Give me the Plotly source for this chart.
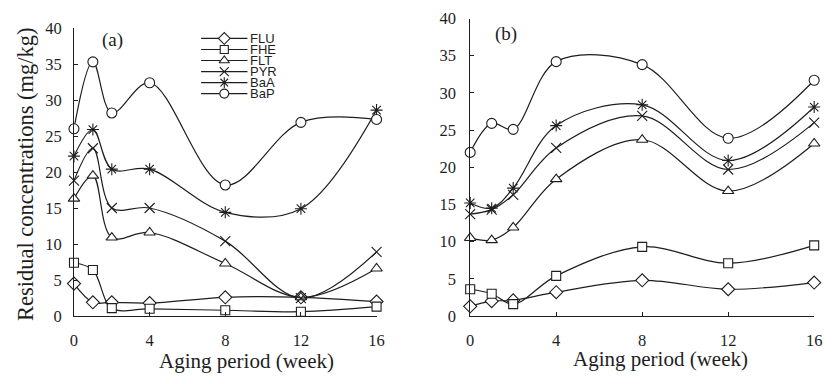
import plotly.graph_objects as go

# Sampling times (weeks)
weeks = [0, 1, 2, 4, 8, 12, 16]
x_ticks = [0, 4, 8, 12, 16]
y_ticks = [0, 5, 10, 15, 20, 25, 30, 35, 40]

series_names = ["FLU", "FHE", "FLT", "PYR", "BaA", "BaP"]

# Panel (a) residual concentrations (mg/kg)
a_flu = [4.5, 1.9, 1.9, 1.8, 2.6, 2.6, 2.0]
a_fhe = [7.4, 6.4, 1.1, 1.0, 0.8, 0.6, 1.3]
a_flt = [16.3, 19.5, 10.9, 11.6, 7.3, 2.6, 6.6]
a_pyr = [18.8, 23.3, 15.0, 15.0, 10.4, 2.5, 8.9]
a_baa = [22.2, 25.9, 20.4, 20.4, 14.4, 14.9, 28.6]
a_bap = [26.0, 35.3, 28.2, 32.4, 18.2, 26.9, 27.3]

# Panel (b) residual concentrations (mg/kg)
b_flu = [1.3, 2.0, 2.1, 3.2, 4.8, 3.6, 4.5]
b_fhe = [3.6, 3.0, 1.6, 5.4, 9.3, 7.1, 9.5]
b_flt = [10.5, 10.2, 11.9, 18.4, 23.7, 16.8, 23.2]
b_pyr = [13.7, 14.3, 16.3, 22.6, 26.9, 19.7, 26.0]
b_baa = [15.2, 14.5, 17.2, 25.6, 28.4, 20.9, 28.1]
b_bap = [22.0, 25.9, 25.1, 34.2, 33.8, 23.9, 31.7]

panel_a = [a_flu, a_fhe, a_flt, a_pyr, a_baa, a_bap]
panel_b = [b_flu, b_fhe, b_flt, b_pyr, b_baa, b_bap]

INK = "#1e1e1e"
W, H = 834, 384

# marker style per compound
marker_styles = {
    "FLU": dict(symbol="diamond", size=10),
    "FHE": dict(symbol="square", size=9),
    "FLT": dict(symbol="triangle-up", size=10),
    "PYR": dict(symbol="x-thin", size=10),
    "BaA": dict(symbol="asterisk", size=10),
    "BaP": dict(symbol="circle", size=10),
}


def marker_for(name, scale=1.0):
    st = marker_styles[name]
    return dict(symbol=st["symbol"], size=st["size"] * scale, color="white",
                line=dict(color=INK, width=1.1))


fig = go.Figure()

for xa, ya, data in (("x", "y", panel_a), ("x2", "y2", panel_b)):
    for name, vals in zip(series_names, data):
        fig.add_trace(go.Scatter(
            x=weeks, y=vals, name=name, xaxis=xa, yaxis=ya,
            mode="lines+markers",
            line=dict(color=INK, width=1.2, shape="spline", smoothing=1.0),
            marker=marker_for(name),
            cliponaxis=False, showlegend=False, hoverinfo="skip",
        ))

# Hand-drawn legend inside panel (a), laid out in pixel space on its own axis
LEG_X0, LEG_X1, LEG_Y0, LEG_DY = 200, 247, 31, 11.6
for i, name in enumerate(series_names):
    yy = LEG_Y0 + i * LEG_DY
    fig.add_trace(go.Scatter(
        x=[LEG_X0, LEG_X1], y=[yy, yy], xaxis="x3", yaxis="y3", mode="lines",
        line=dict(color=INK, width=1.2), showlegend=False, hoverinfo="skip",
        cliponaxis=False,
    ))
    fig.add_trace(go.Scatter(
        x=[(LEG_X0 + LEG_X1) / 2], y=[yy], xaxis="x3", yaxis="y3", mode="markers",
        marker=marker_for(name, 0.9), showlegend=False, hoverinfo="skip",
        cliponaxis=False,
    ))
    fig.add_annotation(x=LEG_X1 + 2, y=yy, xref="x3", yref="y3", text=name,
                       showarrow=False, xanchor="left", yanchor="middle",
                       borderpad=0,
                       font=dict(family="Liberation Sans", size=13, color=INK))

tick_font = dict(family="Liberation Serif", size=16.5, color=INK)
title_font = dict(family="Liberation Serif", size=21, color=INK)


def xax(domain, anchor):
    return dict(domain=domain, range=[0, 16], tickvals=x_ticks, anchor=anchor,
                showline=True, linecolor=INK, linewidth=1, showgrid=False,
                zeroline=False, ticks="inside", ticklen=4, tickcolor=INK,
                tickwidth=1, ticklabelstandoff=9, tickfont=tick_font,
                fixedrange=True)


def yax(domain, anchor, standoff):
    return dict(domain=domain, range=[0, 40], tickvals=y_ticks, anchor=anchor,
                showline=True, linecolor=INK, linewidth=1, showgrid=False,
                zeroline=False, ticks="inside", ticklen=4, tickcolor=INK,
                tickwidth=1, ticklabelstandoff=standoff, tickfont=tick_font,
                fixedrange=True)


fig.update_layout(
    width=W, height=H,
    margin=dict(l=0, r=0, t=0, b=0),
    paper_bgcolor="white", plot_bgcolor="rgba(0,0,0,0)",
    xaxis=xax([71 / W, 378 / W], "y"),
    yaxis=yax([61 / H, 364 / H], "x", 8),
    xaxis2=xax([473 / W, 822 / W], "y2"),
    yaxis2=yax([61 / H, 374 / H], "x2", 10),
    xaxis3=dict(domain=[0, 1], range=[0, W], visible=False, fixedrange=True,
                anchor="y3"),
    yaxis3=dict(domain=[0, 1], range=[H, 0], visible=False, fixedrange=True,
                anchor="x3"),
    showlegend=False,
)

# axis titles and panel tags
fig.add_annotation(x=246 / W, y=1 - 370 / H, xref="paper", yref="paper",
                   text="Aging period (week)", showarrow=False,
                   font=title_font, xanchor="center", yanchor="middle")
fig.add_annotation(x=666 / W, y=1 - 368 / H, xref="paper", yref="paper",
                   text="Aging period (week)", showarrow=False,
                   font=title_font, xanchor="center", yanchor="middle")
fig.add_annotation(x=22 / W, y=1 - 174 / H, xref="paper", yref="paper",
                   text="Residual concentrations (mg/kg)", showarrow=False,
                   textangle=-90,
                   font=dict(family="Liberation Serif", size=22.5, color=INK),
                   xanchor="center", yanchor="middle")
fig.add_annotation(x=110 / W, y=1 - 33 / H, xref="paper", yref="paper",
                   text="(a)", showarrow=False,
                   font=dict(family="Liberation Serif", size=19, color=INK),
                   xanchor="center", yanchor="middle")
fig.add_annotation(x=509 / W, y=1 - 26 / H, xref="paper", yref="paper",
                   text="(b)", showarrow=False,
                   font=dict(family="Liberation Serif", size=19, color=INK),
                   xanchor="center", yanchor="middle")

fig.write_html("out.html", config={"displayModeBar": False, "staticPlot": True})
